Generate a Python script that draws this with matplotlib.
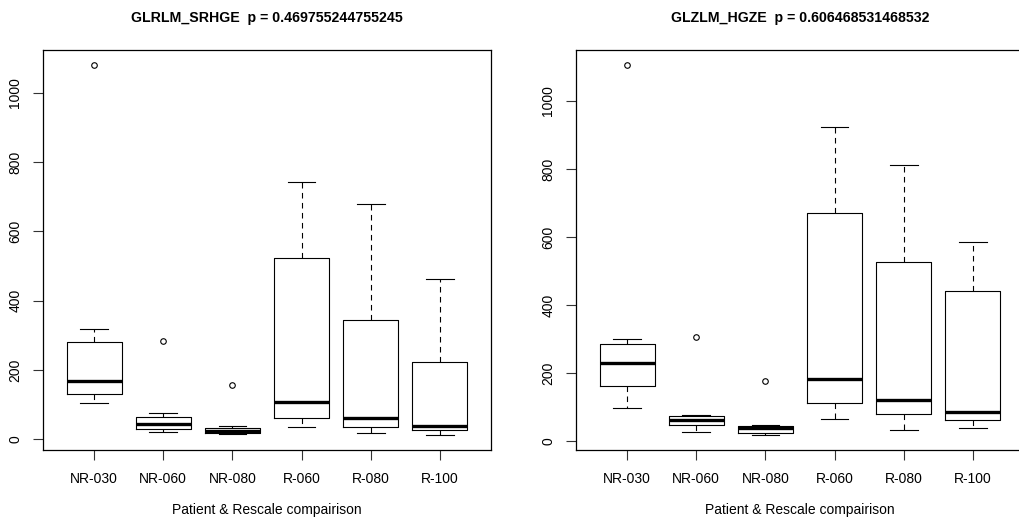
import matplotlib
matplotlib.use("Agg")
import matplotlib.pyplot as plt

plt.rcParams['font.family'] = ['Liberation Sans', 'DejaVu Sans']

groups = ["NR-030", "NR-060", "NR-080", "R-060", "R-080", "R-100"]

# GLRLM_SRHGE (left panel)
srhge_whislo = [105, 22, 14, 36, 19, 12]
srhge_q1 = [132, 30, 17, 62, 36, 27]
srhge_med = [169, 43, 23, 108, 62, 39]
srhge_q3 = [281, 65, 34, 522, 343, 224]
srhge_whishi = [317, 75, 38, 741, 678, 462]
srhge_fliers = [[1080], [284], [158], [], [], []]
srhge_p = "0.469755244755245"

# GLZLM_HGZE (right panel)
hgze_whislo = [97, 26, 17, 65, 33, 37]
hgze_q1 = [161, 46, 24, 112, 80, 61]
hgze_med = [230, 61, 38, 181, 121, 85]
hgze_q3 = [284, 74, 44, 669, 527, 442]
hgze_whishi = [300, 76, 46, 922, 810, 584]
hgze_fliers = [[1106], [307], [176], [], [], []]
hgze_p = "0.606468531468532"


def r_boxplot(ax, title, lo, q1, med, q3, hi, fliers):
    stats = []
    for i in range(len(groups)):
        stats.append(dict(whislo=lo[i], q1=q1[i], med=med[i], q3=q3[i],
                          whishi=hi[i], fliers=fliers[i], label=groups[i]))
    ax.bxp(stats, positions=range(1, len(groups) + 1), widths=0.8,
           capwidths=0.4, patch_artist=False,
           boxprops=dict(color='black', lw=0.8),
           medianprops=dict(color='black', lw=2.4, solid_capstyle='butt'),
           whiskerprops=dict(color='black', lw=0.8, ls=(0, (5, 4))),
           capprops=dict(color='black', lw=0.8),
           flierprops=dict(marker='o', markerfacecolor='none',
                           markeredgecolor='black', markersize=4,
                           markeredgewidth=0.8))
    # R style axis ranges: 4% padding
    allv = lo + hi + [v for f in fliers for v in f]
    vmin, vmax = min(allv), max(allv)
    pad = 0.04 * (vmax - vmin)
    ax.set_ylim(vmin - pad, vmax + pad)
    ax.set_xlim(0.5 - 0.24, len(groups) + 0.5 + 0.24)
    ax.set_xticks(range(1, len(groups) + 1), groups)
    ax.set_yticks([0, 200, 400, 600, 800, 1000])
    for lbl in ax.get_yticklabels():
        lbl.set_rotation(90)
        lbl.set_va('center')
    ax.tick_params(axis='x', length=7, width=0.8, pad=9, labelsize=10,
                   colors='#333333', labelcolor='black')
    ax.tick_params(axis='y', length=7, width=0.8, pad=8, labelsize=10,
                   colors='#333333', labelcolor='black')
    for s in ax.spines.values():
        s.set_linewidth(0.9)
    ax.set_xlabel("Patient & Rescale compairison", fontsize=10, labelpad=12)
    ax.set_title(title, fontsize=10.2, fontweight='bold', pad=20)


fig = plt.figure(figsize=(10.19, 5.21), dpi=100)
ax1 = fig.add_axes([43 / 1019, 71 / 521, 448 / 1019, 400 / 521])
ax2 = fig.add_axes([576 / 1019, 71 / 521, 448 / 1019, 400 / 521])

r_boxplot(ax1, "GLRLM_SRHGE  p = " + srhge_p, srhge_whislo, srhge_q1,
          srhge_med, srhge_q3, srhge_whishi, srhge_fliers)
r_boxplot(ax2, "GLZLM_HGZE  p = " + hgze_p, hgze_whislo, hgze_q1,
          hgze_med, hgze_q3, hgze_whishi, hgze_fliers)

fig.savefig("out.png", dpi=100)
